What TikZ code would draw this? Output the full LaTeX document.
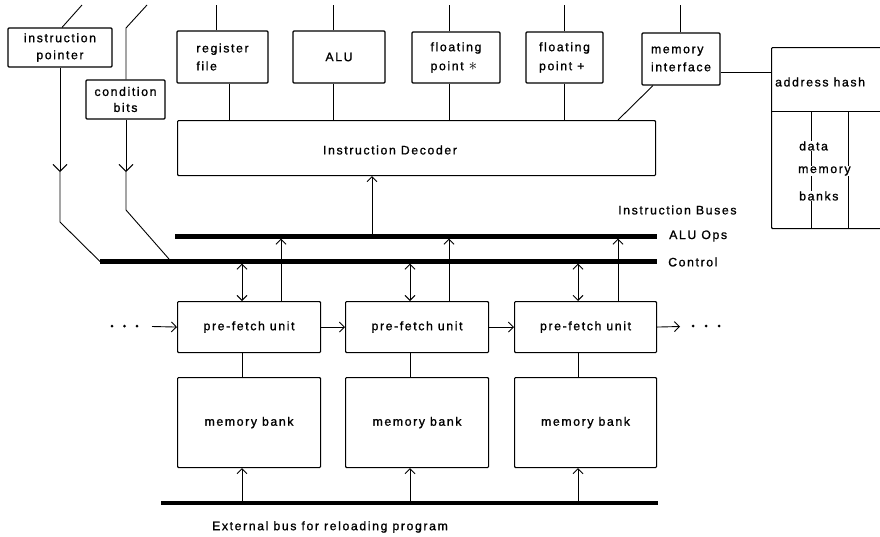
\documentclass[tikz,border=0pt]{standalone}
\usepackage{fontspec}
\setmainfont{Liberation Sans}[LetterSpace=13, FakeBold=1.1]
\usetikzlibrary{arrows.meta}

\begin{document}
\begin{tikzpicture}[x=1pt,y=-1pt,
  every node/.style={font=\fontsize{12.3}{18}\selectfont, inner sep=0pt},
  unit/.style={draw, line width=1.1pt, rounded corners=1pt},
  wire/.style={line width=0.9pt},
  bus/.style={line width=4.5pt},
  tip/.style={-{Straight Barb[length=5pt,width=10pt]}},
  bigtip/.style={-{Straight Barb[length=7pt,width=14pt]}},
  dbltip/.style={{Straight Barb[length=5pt,width=10pt]}-{Straight Barb[length=5pt,width=10pt]}},
  tag/.style={anchor=west}
]
\useasboundingbox (0,0) rectangle (880,536);
\clip (0,0) rectangle (880,536);

% ---------- upper units ----------
\node[unit, minimum width=104pt, minimum height=39pt, align=center] (ip) at (60,47.5) {instruction\\[-1pt]pointer};
\node[unit, minimum width=79pt, minimum height=39pt, align=center] (cb) at (125.5,99.5) {condition\\[-2pt]bits};
\node[unit, minimum width=91pt, minimum height=52pt, align=left] (rf) at (222.5,57) {register\\file};
\node[unit, minimum width=92pt, minimum height=52pt] (alu) at (339,57) {ALU};
\node[unit, minimum width=88pt, minimum height=51pt, align=left] (fpm) at (456,57.5) {floating\\[1pt]point {\fontsize{16}{16}\selectfont$\ast$}};
\node[unit, minimum width=77pt, minimum height=51pt, align=left] (fpa) at (564.5,57.5) {floating\\[1pt]point +};
\node[unit, minimum width=78pt, minimum height=52pt, align=left] (mi) at (681,59) {memory\\interface};

% ---------- instruction decoder ----------
\node[unit, anchor=north west, minimum width=478pt, minimum height=55pt] (dec) at (177,120) {};
\node (declbl) at (390,150) {Instruction Decoder};

% ---------- address hash / data memory ----------
\node[unit, anchor=north west, minimum width=130pt, minimum height=181pt] (ah) at (771,47) {};
\node[tag] (ahlbl) at (775,82) {address hash};
\coordinate (ahdiv) at (0,111);
\draw[wire] (ah.west |- ahdiv) -- (ah.east |- ahdiv);
\coordinate (v1) at (811,0);
\coordinate (v2) at (848,0);
\draw[wire] (v1 |- ahdiv) -- (v1 |- ah.south);
\draw[wire] (v2 |- ahdiv) -- (v2 |- ah.south);
\node[tag, fill=white] (dm1) at (799,146) {data};
\node[tag, fill=white] (dm2) at (798,171) {memory};
\node[tag, fill=white] (dm3) at (799,196) {banks};

% ---------- connections of the upper units ----------
\coordinate (ipT) at (82,5);
\coordinate (cbK) at (126,28);
\coordinate (cbT) at (147,5);
\coordinate (rfT) at (216,5);
\coordinate (aluT) at (333,5);
\coordinate (fpmT) at (449,5);
\coordinate (fpaT) at (564,5);
\coordinate (miT) at (680,5);
\draw[wire] ([xshift=2pt]ip.north) -- (ipT);
\draw[wire] (cbK |- cb.north) -- (cbK) -- (cbT);
\draw[wire] (rfT |- rf.north) -- (rfT);
\draw[wire] (aluT |- alu.north) -- (aluT);
\draw[wire] (fpmT |- fpm.north) -- (fpmT);
\draw[wire] (fpaT |- fpa.north) -- (fpaT);
\draw[wire] (miT |- mi.north) -- (miT);

\coordinate (rfB) at (229,0);
\coordinate (aluB) at (333,0);
\coordinate (fpmB) at (449,0);
\coordinate (fpaB) at (564,0);
\coordinate (miD) at (618,0);
\draw[wire] (rfB |- rf.south) -- (rfB |- dec.north);
\draw[wire] (aluB |- alu.south) -- (aluB |- dec.north);
\draw[wire] (fpmB |- fpm.south) -- (fpmB |- dec.north);
\draw[wire] (fpaB |- fpa.south) -- (fpaB |- dec.north);
\draw[wire] ([xshift=-28pt]mi.south) -- (miD |- dec.north);
\coordinate (miH) at (0,72);
\draw[wire] (mi.east |- miH) -- (ah.west |- miH);

% ---------- instruction buses ----------
\coordinate (aluL) at (175,236.5);
\coordinate (aluR) at (657,236.5);
\coordinate (ctlL) at (100,261.5);
\coordinate (ctlR) at (657,261.5);
\draw[bus] (aluL) -- (aluR);
\draw[bus] (ctlL) -- (ctlR);
\node[tag] (busttl) at (618,210) {Instruction Buses};
\node[tag] (alulbl) at (669,236) {ALU Ops};
\node[tag] (ctllbl) at (668,262) {Control};

% pointer and condition bits feed the control bus
\coordinate (ipA) at (60,172);
\coordinate (ipK) at (60,222);
\coordinate (cbA) at (126,172);
\coordinate (cbK2) at (126,210);
\coordinate (cbE) at (169,259);
\draw[wire, bigtip] (ip.south) -- (ipA);
\draw[wire] (ipA) -- (ipK) -- (ctlL);
\draw[wire, bigtip] (cbA |- cb.south) -- (cbA);
\draw[wire] (cbA) -- (cbK2) -- (cbE);

% ALU Ops bus into the decoder
\coordinate (decIn) at (372,0);
\draw[wire, tip, shorten <=2.2pt] (decIn |- aluL) -- (decIn |- dec.south);

% ---------- pre-fetch units and memory banks ----------
\node[unit, anchor=north west, minimum width=143pt, minimum height=51pt] (pf1) at (177,301) {pre-fetch unit};
\node[unit, anchor=north west, minimum width=143pt, minimum height=51pt] (pf2) at (345,301) {pre-fetch unit};
\node[unit, anchor=north west, minimum width=142pt, minimum height=51pt] (pf3) at (514,301) {pre-fetch unit};
\node[unit, anchor=north west, minimum width=143pt, minimum height=90pt] (mb1) at (177,377) {memory bank};
\node[unit, anchor=north west, minimum width=143pt, minimum height=90pt] (mb2) at (345,377) {memory bank};
\node[unit, anchor=north west, minimum width=142pt, minimum height=90pt] (mb3) at (514,377) {memory bank};

% control (both ways) and ALU ops (upward) links
\foreach \u/\d/\s in {pf1/242/281, pf2/410/449, pf3/578/618}{
  \coordinate (cd) at (\d,0);
  \coordinate (cs) at (\s,0);
  \draw[wire, dbltip, shorten <=2.2pt] (cd |- ctlL) -- (cd |- \u.north);
  \draw[wire, tip, shorten >=2.2pt] (cs |- \u.north) -- (cs |- aluL);
}
\foreach \u/\m/\d in {pf1/mb1/242, pf2/mb2/410, pf3/mb3/578}{
  \coordinate (cd) at (\d,0);
  \draw[wire] (cd |- \u.south) -- (cd |- \m.north);
}

% chain of pre-fetch units
\coordinate (inL) at (152,326.5);
\coordinate (outR) at (680,326.5);
\draw[wire, tip] (inL) -- (pf1.west);
\draw[wire, tip] (pf1.east) -- (pf2.west);
\draw[wire, tip] (pf2.east) -- (pf3.west);
\draw[wire, tip] (pf3.east) -- (outR);
\foreach \x in {112,124.5,137,693,706,719}
  \fill (\x,326) circle[radius=1.5pt];

% ---------- external bus ----------
\coordinate (extL) at (161,503);
\coordinate (extR) at (658,503);
\draw[bus] (extL) -- (extR);
\foreach \m/\d in {mb1/242, mb2/410, mb3/578}{
  \coordinate (cd) at (\d,0);
  \draw[wire, tip, shorten <=2.2pt] (cd |- extL) -- (cd |- \m.south);
}
\node (extlbl) at (330,527) {External bus for reloading program};
\end{tikzpicture}
\end{document}
